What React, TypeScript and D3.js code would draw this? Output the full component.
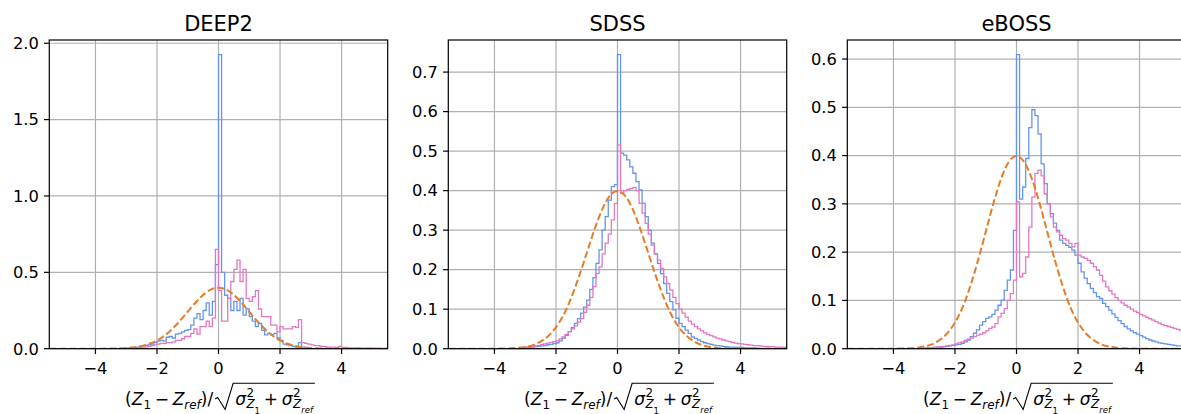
import { useEffect, useRef } from 'react';
import * as d3 from 'd3';

// histogram bins are 0.1 wide, first bin starts at -3.0
const BIN = 0.1;
const BIN_START = -3.0;

const titles = ['DEEP2', 'SDSS', 'eBOSS'];
const xTicks = [-4, -2, 0, 2, 4];
const yTicksDeep2 = [0, 0.5, 1.0, 1.5, 2.0];
const yTicksSdss = [0, 0.1, 0.2, 0.3, 0.4, 0.5, 0.6, 0.7];
const yTicksEboss = [0, 0.1, 0.2, 0.3, 0.4, 0.5, 0.6];

const deep2Blue = [
  0.002, 0.003, 0.005, 0.008, 0.012, 0.018, 0.022, 0.025, 0.03, 0.04,
  0.05, 0.055, 0.05, 0.075, 0.08, 0.07, 0.095, 0.1, 0.11, 0.12,
  0.125, 0.155, 0.2, 0.23, 0.19, 0.25, 0.3, 0.22, 0.31, 0.55,
  1.925, 0.5, 0.35, 0.33, 0.25, 0.31, 0.25, 0.33, 0.22, 0.26,
  0.21, 0.18, 0.145, 0.165, 0.12, 0.09, 0.1, 0.09, 0.1, 0.07,
  0.055, 0.03, 0.025, 0.02, 0.015, 0.01, 0.04, 0.01, 0.005, 0.003,
];
const deep2Pink = [
  0.003, 0.004, 0.005, 0.006, 0.008, 0.01, 0.012, 0.015, 0.02, 0.025,
  0.03, 0.035, 0.035, 0.04, 0.04, 0.045, 0.055, 0.055, 0.065, 0.08,
  0.08, 0.1, 0.13, 0.095, 0.145, 0.145, 0.18, 0.145, 0.2, 0.65,
  0.38, 0.18, 0.18, 0.33, 0.44, 0.52, 0.58, 0.44, 0.52, 0.33,
  0.31, 0.34, 0.38, 0.26, 0.21, 0.21, 0.21, 0.155, 0.155, 0.11,
  0.145, 0.13, 0.13, 0.13, 0.145, 0.14, 0.19, 0.04, 0.035, 0.03,
  0.025, 0.02, 0.02, 0.015, 0.015, 0.01, 0.01, 0.01, 0.008, 0.015,
  0.008, 0.008, 0.006, 0.006, 0.005, 0.005, 0.004, 0.004, 0.003, 0.003,
  0.003, 0.002, 0.002, 0.002, 0.002,
];

const sdssBlue = [
  0.003, 0.003, 0.004, 0.005, 0.006, 0.007, 0.008, 0.01, 0.011, 0.013,
  0.015, 0.02, 0.026, 0.034, 0.043, 0.053, 0.064, 0.076, 0.09, 0.105,
  0.123, 0.15, 0.18, 0.216, 0.25, 0.3, 0.334, 0.376, 0.41, 0.415,
  0.744, 0.495, 0.49, 0.478, 0.46, 0.444, 0.423, 0.402, 0.368, 0.334,
  0.3, 0.267, 0.24, 0.216, 0.19, 0.165, 0.14, 0.119, 0.098, 0.077,
  0.064, 0.056, 0.047, 0.039, 0.03, 0.026, 0.022, 0.018, 0.015, 0.013,
  0.011, 0.009, 0.008, 0.007, 0.006, 0.005, 0.004, 0.004, 0.003, 0.003,
  0.003, 0.002, 0.002, 0.002, 0.002, 0.001, 0.001, 0.001, 0.001, 0.001,
];
const sdssPink = [
  0.004, 0.005, 0.006, 0.007, 0.008, 0.01, 0.012, 0.014, 0.016, 0.018,
  0.02, 0.025, 0.03, 0.036, 0.043, 0.05, 0.058, 0.067, 0.076, 0.092,
  0.11, 0.13, 0.157, 0.19, 0.207, 0.24, 0.267, 0.29, 0.326, 0.368,
  0.515, 0.393, 0.4, 0.403, 0.405, 0.408, 0.4, 0.368, 0.343, 0.317,
  0.29, 0.262, 0.24, 0.224, 0.203, 0.182, 0.165, 0.148, 0.13, 0.114,
  0.1, 0.09, 0.08, 0.07, 0.062, 0.056, 0.05, 0.045, 0.04, 0.036,
  0.033, 0.03, 0.027, 0.025, 0.022, 0.02, 0.018, 0.016, 0.014, 0.013,
  0.012, 0.011, 0.01, 0.009, 0.008, 0.008, 0.007, 0.006, 0.006, 0.005,
  0.005, 0.004, 0.004, 0.004, 0.003,
];

const ebossBlue = [
  0.001, 0.001, 0.002, 0.002, 0.003, 0.003, 0.004, 0.005, 0.006, 0.007,
  0.008, 0.009, 0.011, 0.014, 0.018, 0.025, 0.032, 0.039, 0.049, 0.056,
  0.063, 0.066, 0.071, 0.08, 0.09, 0.1, 0.121, 0.142, 0.163, 0.245,
  0.609, 0.31, 0.335, 0.394, 0.458, 0.495, 0.483, 0.445, 0.383, 0.342,
  0.3, 0.28, 0.26, 0.245, 0.225, 0.218, 0.214, 0.21, 0.204, 0.194,
  0.177, 0.159, 0.146, 0.135, 0.125, 0.116, 0.108, 0.104, 0.094, 0.087,
  0.08, 0.072, 0.065, 0.058, 0.052, 0.046, 0.041, 0.037, 0.033, 0.03,
  0.027, 0.024, 0.021, 0.018, 0.016, 0.014, 0.012, 0.011, 0.01, 0.009,
  0.008, 0.007, 0.006, 0.006, 0.005,
];
const ebossPink = [
  0.001, 0.002, 0.002, 0.003, 0.003, 0.004, 0.005, 0.006, 0.007, 0.008,
  0.01, 0.012, 0.014, 0.017, 0.02, 0.022, 0.025, 0.028, 0.03, 0.033,
  0.037, 0.042, 0.045, 0.052, 0.066, 0.073, 0.083, 0.1, 0.114, 0.142,
  0.304, 0.149, 0.156, 0.19, 0.252, 0.314, 0.363, 0.37, 0.358, 0.321,
  0.3, 0.273, 0.252, 0.242, 0.235, 0.228, 0.225, 0.218, 0.211, 0.218,
  0.194, 0.19, 0.187, 0.183, 0.177, 0.17, 0.163, 0.152, 0.14, 0.128,
  0.12, 0.113, 0.106, 0.1, 0.095, 0.09, 0.086, 0.082, 0.078, 0.075,
  0.071, 0.068, 0.065, 0.062, 0.059, 0.056, 0.053, 0.05, 0.048, 0.046,
  0.044, 0.042, 0.04, 0.038, 0.036,
];

// unit gaussian reference, sampled every 0.25 from -5.5 to 5.5
const gaussStep = 0.25;
const gaussStart = -5.5;
const gaussY = [
  0, 0, 0, 0, 0, 0, 0.0001, 0.0004, 0.0009, 0.002, 0.0044, 0.009,
  0.018, 0.032, 0.054, 0.086, 0.13, 0.183, 0.242, 0.301, 0.352, 0.387,
  0.399,
  0.387, 0.352, 0.301, 0.242, 0.183, 0.13, 0.086, 0.054, 0.032, 0.018,
  0.009, 0.0044, 0.002, 0.0009, 0.0004, 0.0001, 0, 0, 0, 0, 0, 0,
];

const panels = [
  { title: titles[0], blue: deep2Blue, pink: deep2Pink, yTicks: yTicksDeep2, left: 49.3 },
  { title: titles[1], blue: sdssBlue, pink: sdssPink, yTicks: yTicksSdss, left: 448.3 },
  { title: titles[2], blue: ebossBlue, pink: ebossPink, yTicks: yTicksEboss, left: 847.3 },
];

const W = 1181;
const H = 414;
const PW = 338.4;
const TOP = 40;
const BOTTOM = 348.7;
const FONT = '"DejaVu Sans", sans-serif';
const BLUE = '#6495ed';
const PINK = '#e377c2';
const ORANGE = '#e47d27';
const TICK_FS = 16.3;

function stepPoints(vals: number[]): [number, number][] {
  const pts: [number, number][] = [[BIN_START, 0]];
  vals.forEach((v, i) => {
    pts.push([BIN_START + i * BIN, v]);
    pts.push([BIN_START + (i + 1) * BIN, v]);
  });
  pts.push([BIN_START + vals.length * BIN, 0]);
  return pts;
}

// x label, laid out piece by piece inside one <text> like mathtext would
function mathLabel(parent: any, cx: number, base: number, F: number) {
  const grp = parent.append('g');
  const txt = grp.append('text').attr('font-family', FONT).attr('fill', '#000');
  let x = 0;
  const put = (t: string, it: boolean, size: number, dy: number, x0: number) => {
    const el = txt
      .append('tspan')
      .attr('x', x0)
      .attr('y', dy)
      .attr('font-size', size)
      .attr('font-style', it ? 'italic' : 'normal')
      .text(t);
    return (el.node() as SVGTSpanElement).getComputedTextLength();
  };
  const run = (t: string, it = false, size = F, dy = 0) => {
    x += put(t, it, size, dy, x);
  };
  const gap = (w: number) => {
    x += w;
  };
  const sub = F * 0.7;
  const subsub = F * 0.5;

  run('(');
  run('Z', true);
  run('1', false, sub, 3.5);
  gap(F * 0.22);
  run('\u2212');
  gap(F * 0.22);
  run('Z', true);
  run('ref', true, sub, 3.5);
  run(')');
  run('/');

  const r0 = x + 2;
  const topY = -21.7;
  x = r0 + 20;

  run('\u03c3', true);
  let sx = x + 0.5;
  let w1 = put('2', false, sub, -8.3, sx);
  let w2 = put('Z', true, sub, 3, sx);
  w2 += put('1', false, subsub, 8.5, sx + w2);
  x = sx + Math.max(w1, w2);
  gap(F * 0.22);
  run('+');
  gap(F * 0.22);
  run('\u03c3', true);
  sx = x + 0.5;
  w1 = put('2', false, sub, -8.3, sx);
  w2 = put('Z', true, sub, 3, sx);
  w2 += put('ref', true, subsub, 8, sx + w2);
  x = sx + Math.max(w1, w2) + 2;

  grp
    .append('path')
    .attr(
      'd',
      `M${r0},-6 L${r0 + 2.5},-7.5 L${r0 + 10},4.5 L${r0 + 18},${topY} L${x},${topY}`
    )
    .attr('fill', 'none')
    .attr('stroke', '#000')
    .attr('stroke-width', 1.1);

  grp.attr('transform', `translate(${cx - x / 2},${base})`);
}

const App = () => {
  const ref = useRef<SVGSVGElement>(null);

  useEffect(() => {
    const svg = d3.select(ref.current);
    svg.selectAll('*').remove();
    svg.attr('width', W).attr('height', H);
    svg.append('rect').attr('width', W).attr('height', H).attr('fill', '#fff');

    const fmtY = d3.format('.1f');
    const fmtX = d3.format('d');

    panels.forEach((p, idx) => {
      const yMax = 1.05 * Math.max(d3.max(p.blue) as number, d3.max(p.pink) as number);
      const x = d3.scaleLinear().domain([-5.5, 5.5]).range([p.left, p.left + PW]);
      const y = d3.scaleLinear().domain([0, yMax]).range([BOTTOM, TOP]);
      const g = svg.append('g');

      const clipId = `clip${idx}`;
      svg
        .append('clipPath')
        .attr('id', clipId)
        .append('rect')
        .attr('x', p.left)
        .attr('y', TOP)
        .attr('width', PW)
        .attr('height', BOTTOM - TOP);

      // grid
      xTicks.forEach((t) => {
        g.append('line')
          .attr('x1', x(t)).attr('x2', x(t))
          .attr('y1', TOP).attr('y2', BOTTOM)
          .attr('stroke', '#b0b0b0').attr('stroke-width', 1.2);
      });
      p.yTicks.forEach((t) => {
        g.append('line')
          .attr('x1', p.left).attr('x2', p.left + PW)
          .attr('y1', y(t)).attr('y2', y(t))
          .attr('stroke', '#b0b0b0').attr('stroke-width', 1.2);
      });

      const plot = g.append('g').attr('clip-path', `url(#${clipId})`);
      const line = d3
        .line<[number, number]>()
        .x((d) => x(d[0]))
        .y((d) => y(d[1]));

      plot.append('path')
        .attr('d', line(stepPoints(p.blue)))
        .attr('fill', 'none').attr('stroke', BLUE).attr('stroke-width', 1.3);
      plot.append('path')
        .attr('d', line(stepPoints(p.pink)))
        .attr('fill', 'none').attr('stroke', PINK).attr('stroke-width', 1.3);

      const gauss = d3
        .line<number>()
        .x((_, i) => x(gaussStart + i * gaussStep))
        .y((d) => y(d))
        .curve(d3.curveMonotoneX);
      plot.append('path')
        .attr('d', gauss(gaussY))
        .attr('fill', 'none').attr('stroke', ORANGE).attr('stroke-width', 2)
        .attr('stroke-dasharray', '7,3');

      // spines
      g.append('rect')
        .attr('x', p.left).attr('y', TOP)
        .attr('width', PW).attr('height', BOTTOM - TOP)
        .attr('fill', 'none').attr('stroke', '#000').attr('stroke-width', 1.2);

      // ticks and labels
      xTicks.forEach((t) => {
        g.append('line')
          .attr('x1', x(t)).attr('x2', x(t))
          .attr('y1', BOTTOM).attr('y2', BOTTOM + 5.25)
          .attr('stroke', '#000').attr('stroke-width', 1.2);
        g.append('text')
          .attr('x', x(t)).attr('y', 373.5)
          .attr('text-anchor', 'middle')
          .attr('font-family', FONT).attr('font-size', TICK_FS)
          .text(fmtX(t));
      });
      p.yTicks.forEach((t) => {
        g.append('line')
          .attr('x1', p.left - 5.25).attr('x2', p.left)
          .attr('y1', y(t)).attr('y2', y(t))
          .attr('stroke', '#000').attr('stroke-width', 1.2);
        g.append('text')
          .attr('x', p.left - 10.5).attr('y', y(t) + 5.8)
          .attr('text-anchor', 'end')
          .attr('font-family', FONT).attr('font-size', TICK_FS)
          .text(fmtY(t));
      });

      g.append('text')
        .attr('x', p.left + PW / 2).attr('y', 31)
        .attr('text-anchor', 'middle')
        .attr('font-family', FONT).attr('font-size', 21)
        .text(p.title);

      mathLabel(g, p.left + PW / 2 + 1.5, 405, 17);
    });
  }, []);

  return <svg ref={ref} style={{ position: 'absolute', left: 0, top: 0, display: 'block' }}></svg>;
};

export default App;
